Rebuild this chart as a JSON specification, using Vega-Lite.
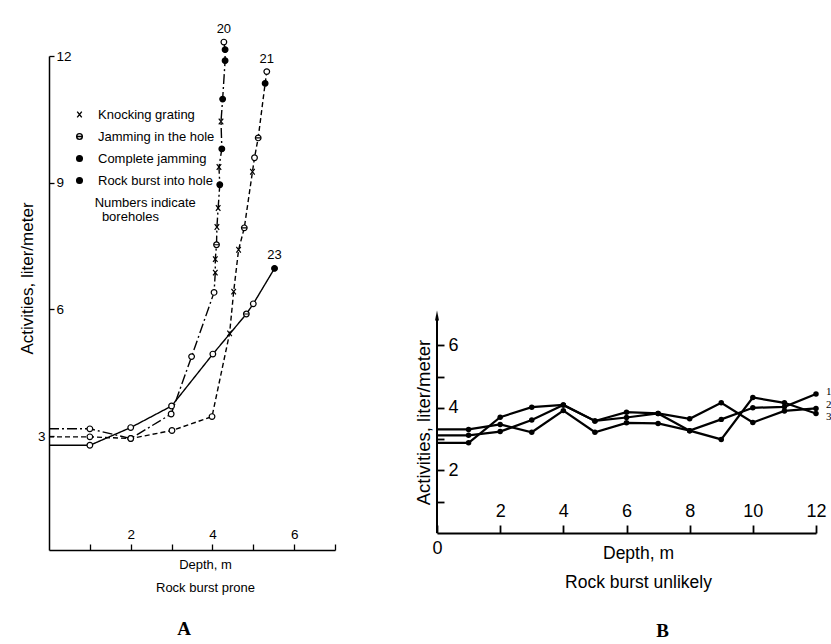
{
  "$schema": "https://vega.github.io/schema/vega-lite/v6.json",
  "autosize": "none",
  "padding": {"left": 49, "top": 56, "right": 782, "bottom": 588},
  "background": "white",
  "bounds": "flush",
  "spacing": 102,
  "config": {
    "view": {"stroke": null},
    "font": "Liberation Sans",
    "axis": {"grid": false, "domainColor": "black", "tickColor": "black", "labelColor": "black", "titleColor": "black", "titleFontWeight": "normal", "labelFont": "Liberation Sans", "titleFont": "Liberation Sans"},
    "legend": {"labelColor": "black", "titleColor": "black"}
  },
  "datasets": {
    "A": [
      {"b": "20", "depth": 0, "value": 3.17, "marker": "none"},
      {"b": "20", "depth": 1, "value": 3.17, "marker": "open"},
      {"b": "20", "depth": 2, "value": 2.94, "marker": "open"},
      {"b": "20", "depth": 2.99, "value": 3.52, "marker": "open"},
      {"b": "20", "depth": 3.49, "value": 4.88, "marker": "open"},
      {"b": "20", "depth": 4.04, "value": 6.4, "marker": "open"},
      {"b": "20", "depth": 4.07, "value": 6.87, "marker": "Knocking grating"},
      {"b": "20", "depth": 4.07, "value": 7.19, "marker": "Knocking grating"},
      {"b": "20", "depth": 4.1, "value": 7.53, "marker": "Jamming in the hole"},
      {"b": "20", "depth": 4.11, "value": 7.95, "marker": "Knocking grating"},
      {"b": "20", "depth": 4.14, "value": 8.4, "marker": "Knocking grating"},
      {"b": "20", "depth": 4.18, "value": 8.95, "marker": "Complete jamming"},
      {"b": "20", "depth": 4.16, "value": 9.37, "marker": "Knocking grating"},
      {"b": "20", "depth": 4.23, "value": 9.8, "marker": "Complete jamming"},
      {"b": "20", "depth": 4.21, "value": 10.45, "marker": "Knocking grating"},
      {"b": "20", "depth": 4.25, "value": 10.98, "marker": "Complete jamming"},
      {"b": "20", "depth": 4.31, "value": 11.89, "marker": "Rock burst into hole"},
      {"b": "20", "depth": 4.31, "value": 12.15, "marker": "Rock burst into hole"},
      {"b": "20", "depth": 4.28, "value": 12.33, "marker": "open"},
      {"b": "21", "depth": 0, "value": 2.98, "marker": "none"},
      {"b": "21", "depth": 1, "value": 2.98, "marker": "open"},
      {"b": "21", "depth": 2, "value": 2.94, "marker": "open"},
      {"b": "21", "depth": 3.01, "value": 3.13, "marker": "open"},
      {"b": "21", "depth": 3.99, "value": 3.46, "marker": "open"},
      {"b": "21", "depth": 4.42, "value": 5.43, "marker": "Knocking grating"},
      {"b": "21", "depth": 4.52, "value": 6.42, "marker": "Knocking grating"},
      {"b": "21", "depth": 4.64, "value": 7.41, "marker": "Knocking grating"},
      {"b": "21", "depth": 4.78, "value": 7.93, "marker": "Jamming in the hole"},
      {"b": "21", "depth": 4.98, "value": 9.26, "marker": "Knocking grating"},
      {"b": "21", "depth": 5.03, "value": 9.59, "marker": "open"},
      {"b": "21", "depth": 5.12, "value": 10.06, "marker": "Jamming in the hole"},
      {"b": "21", "depth": 5.29, "value": 11.35, "marker": "Rock burst into hole"},
      {"b": "21", "depth": 5.33, "value": 11.63, "marker": "open"},
      {"b": "23", "depth": 0, "value": 2.78, "marker": "none"},
      {"b": "23", "depth": 1, "value": 2.78, "marker": "open"},
      {"b": "23", "depth": 2, "value": 3.2, "marker": "open"},
      {"b": "23", "depth": 3, "value": 3.71, "marker": "open"},
      {"b": "23", "depth": 4.01, "value": 4.94, "marker": "open"},
      {"b": "23", "depth": 4.83, "value": 5.89, "marker": "Jamming in the hole"},
      {"b": "23", "depth": 5.0, "value": 6.13, "marker": "open"},
      {"b": "23", "depth": 5.52, "value": 6.97, "marker": "Rock burst into hole"}
    ],
    "Alabels": [
      {"b": "20", "depth": 4.28, "value": 12.33},
      {"b": "21", "depth": 5.33, "value": 11.63},
      {"b": "23", "depth": 5.52, "value": 6.97}
    ],
    "B": [
      {"line": "1", "depth": 0, "value": 3.31}, {"line": "1", "depth": 1, "value": 3.31}, {"line": "1", "depth": 2, "value": 3.47}, {"line": "1", "depth": 3, "value": 3.22}, {"line": "1", "depth": 4, "value": 3.91}, {"line": "1", "depth": 5, "value": 3.22}, {"line": "1", "depth": 6, "value": 3.52}, {"line": "1", "depth": 7, "value": 3.5}, {"line": "1", "depth": 8, "value": 3.27}, {"line": "1", "depth": 9, "value": 3.63}, {"line": "1", "depth": 10, "value": 4.0}, {"line": "1", "depth": 11, "value": 4.03}, {"line": "1", "depth": 12, "value": 4.44},
      {"line": "2", "depth": 0, "value": 3.12}, {"line": "2", "depth": 1, "value": 3.12}, {"line": "2", "depth": 2, "value": 3.24}, {"line": "2", "depth": 3, "value": 3.61}, {"line": "2", "depth": 4, "value": 4.09}, {"line": "2", "depth": 5, "value": 3.58}, {"line": "2", "depth": 6, "value": 3.86}, {"line": "2", "depth": 7, "value": 3.82}, {"line": "2", "depth": 8, "value": 3.65}, {"line": "2", "depth": 9, "value": 4.16}, {"line": "2", "depth": 10, "value": 3.53}, {"line": "2", "depth": 11, "value": 3.9}, {"line": "2", "depth": 12, "value": 3.98},
      {"line": "3", "depth": 0, "value": 2.88}, {"line": "3", "depth": 1, "value": 2.88}, {"line": "3", "depth": 2, "value": 3.7}, {"line": "3", "depth": 3, "value": 4.02}, {"line": "3", "depth": 4, "value": 4.09}, {"line": "3", "depth": 5, "value": 3.58}, {"line": "3", "depth": 6, "value": 3.69}, {"line": "3", "depth": 7, "value": 3.82}, {"line": "3", "depth": 8, "value": 3.27}, {"line": "3", "depth": 9, "value": 2.99}, {"line": "3", "depth": 10, "value": 4.33}, {"line": "3", "depth": 11, "value": 4.16}, {"line": "3", "depth": 12, "value": 3.82}
    ],
    "Blabels": [
      {"line": "1", "depth": 12, "value": 4.5},
      {"line": "2", "depth": 12, "value": 4.1},
      {"line": "3", "depth": 12, "value": 3.7}
    ],
    "axisB": [
      {"depth": 0, "bottom": 0, "top": 6.9, "arrow": 6.95}
    ]
  },
  "hconcat": [
    {
      "width": 286,
      "height": 494,
      "title": {"text": "A", "orient": "bottom", "frame": "group", "anchor": "middle", "dx": -8, "offset": 26, "font": "Liberation Serif", "fontSize": 19, "fontWeight": "bold", "color": "black"},
      "layer": [
        {
          "data": {"name": "A"},
          "mark": {"type": "line", "color": "black", "strokeWidth": 1.4},
          "encoding": {
            "x": {"field": "depth", "type": "quantitative", "scale": {"domain": [0, 7], "nice": false, "zero": false},
              "axis": {"values": [1, 2, 3, 4, 5, 6, 7], "labelExpr": "datum.value % 2 == 0 ? datum.label : ''", "tickSize": -6, "tickWidth": 1.3, "domainWidth": 1.5, "labelPadding": -3, "labelBaseline": "bottom", "labelFontSize": 13.5, "labelAngle": 0, "labelFlush": false,
                "title": ["Depth, m", "Rock burst prone"], "titleFontSize": 13, "titleLineHeight": 23, "titleX": 156, "titleY": 8, "titleBaseline": "top", "titleAlign": "center"}},
            "y": {"field": "value", "type": "quantitative", "scale": {"domain": [0.3, 12], "nice": false, "zero": false},
              "axis": {"values": [3, 6, 9, 12], "tickSize": -5, "tickWidth": 1.3, "domainWidth": 1.5, "labelFontSize": 13.5, "labelFlush": false,
                "labelAlign": {"condition": {"test": "datum.value == 3", "value": "right"}, "value": "left"},
                "labelPadding": {"condition": {"test": "datum.value == 3", "value": 9}, "value": -2},
                "title": "Activities, liter/meter", "titleFontSize": 17, "titleAngle": 270, "titleX": -22, "titleY": 222, "titleAlign": "center", "titleBaseline": "middle"}},
            "detail": {"field": "b", "type": "nominal"},
            "strokeDash": {"field": "b", "type": "nominal", "scale": {"domain": ["20", "21", "23"], "range": [[10, 3, 2, 3], [5, 3], [1, 0]]}, "legend": null},
            "order": {"value": null}
          }
        },
        {
          "data": {"name": "A"},
          "transform": [{"filter": "datum.marker != 'none'"}],
          "mark": {"type": "point", "filled": false, "strokeWidth": 1.2, "size": 32, "opacity": 1, "fillOpacity": 1, "strokeOpacity": 1},
          "encoding": {
            "x": {"field": "depth", "type": "quantitative"},
            "y": {"field": "value", "type": "quantitative"},
            "shape": {"field": "marker", "type": "nominal",
              "scale": {"domain": ["open", "Knocking grating", "Jamming in the hole", "Complete jamming", "Rock burst into hole"],
                "range": ["circle", "M-0.8,-1L0.8,1M-0.8,1L0.8,-1", "M-1,0A1,1,0,1,1,1,0A1,1,0,1,1,-1,0ZM-1,0L1,0", "circle", "circle"]},
              "legend": {"orient": "none", "legendX": 24, "legendY": 52, "values": ["Knocking grating", "Jamming in the hole", "Complete jamming", "Rock burst into hole"],
                "title": ["\u200b\u00a0\u00a0\u00a0\u00a0\u00a0\u00a0Numbers indicate", "\u200b\u00a0\u00a0\u00a0\u00a0\u00a0\u00a0\u00a0\u00a0boreholes"], "titleOrient": "bottom", "titleFontWeight": "normal", "titleFontSize": 13, "titleLineHeight": 14, "titlePadding": 9, "titleFont": "Liberation Sans",
                "labelFontSize": 13, "labelFont": "Liberation Sans", "rowPadding": 8, "labelOffset": 12, "symbolStrokeWidth": 1.4, "symbolSize": 32}},
            "fill": {"field": "marker", "type": "nominal",
              "scale": {"domain": ["open", "Knocking grating", "Jamming in the hole", "Complete jamming", "Rock burst into hole"], "range": ["white", "transparent", "white", "black", "black"]}},
            "stroke": {"field": "marker", "type": "nominal",
              "scale": {"domain": ["open", "Knocking grating", "Jamming in the hole", "Complete jamming", "Rock burst into hole"], "range": ["black", "black", "black", "black", "black"]}}
          }
        },
        {
          "data": {"name": "Alabels"},
          "mark": {"type": "text", "dy": -13, "fontSize": 13, "color": "black", "font": "Liberation Sans"},
          "encoding": {
            "x": {"field": "depth", "type": "quantitative"},
            "y": {"field": "value", "type": "quantitative"},
            "text": {"field": "b", "type": "nominal"}
          }
        }
      ]
    },
    {
      "width": 379,
      "height": 477,
      "title": {"text": "B", "orient": "bottom", "frame": "group", "anchor": "middle", "dx": 36, "offset": 31, "font": "Liberation Serif", "fontSize": 19, "fontWeight": "bold", "color": "black"},
      "layer": [
        {
          "data": {"name": "B"},
          "mark": {"type": "line", "color": "black", "strokeWidth": 2.2},
          "encoding": {
            "x": {"field": "depth", "type": "quantitative", "scale": {"domain": [0, 12], "nice": false, "zero": false},
              "axis": {"values": [0, 1, 2, 3, 4, 5, 6, 7, 8, 9, 10, 11, 12], "labelExpr": "datum.value % 2 == 0 ? datum.label : ''", "tickSize": -8, "tickWidth": 1.8, "domainWidth": 2, "labelFontSize": 18, "labelAngle": 0, "labelFlush": false,
                "labelBaseline": {"condition": {"test": "datum.value == 0", "value": "top"}, "value": "bottom"},
                "labelPadding": {"condition": {"test": "datum.value == 0", "value": 14}, "value": -5},
                "title": ["Depth, m", "Rock burst unlikely"], "titleFontSize": 17.5, "titleLineHeight": 29, "titleX": 201, "titleY": 11, "titleBaseline": "top", "titleAlign": "center"}},
            "y": {"field": "value", "type": "quantitative", "scale": {"domain": [0, 15.24], "nice": false, "zero": false},
              "axis": {"values": [1, 2, 3, 4, 5, 6], "labelExpr": "datum.value % 2 == 0 ? datum.label : ''", "domain": false, "tickSize": -7, "tickWidth": 1.8, "labelPadding": -4, "labelAlign": "left", "labelFontSize": 18, "labelFlush": false,
                "title": "Activities, liter/meter", "titleFontSize": 18.5, "titleAngle": 270, "titleX": -14, "titleY": 366, "titleAlign": "center", "titleBaseline": "middle"}},
            "detail": {"field": "line", "type": "nominal"}
          }
        },
        {
          "data": {"name": "axisB"},
          "mark": {"type": "rule", "color": "black", "strokeWidth": 2},
          "encoding": {
            "x": {"field": "depth", "type": "quantitative"},
            "y": {"field": "bottom", "type": "quantitative"},
            "y2": {"field": "top"}
          }
        },
        {
          "data": {"name": "axisB"},
          "mark": {"type": "point", "shape": "M0,-1L-0.4,1L0.4,1Z", "filled": true, "color": "black", "size": 100, "opacity": 1},
          "encoding": {
            "x": {"field": "depth", "type": "quantitative"},
            "y": {"field": "arrow", "type": "quantitative"}
          }
        },
        {
          "data": {"name": "B"},
          "transform": [{"filter": "datum.depth > 0"}],
          "mark": {"type": "point", "shape": "circle", "filled": true, "color": "black", "size": 30, "opacity": 1},
          "encoding": {
            "x": {"field": "depth", "type": "quantitative"},
            "y": {"field": "value", "type": "quantitative"}
          }
        },
        {
          "data": {"name": "Blabels"},
          "mark": {"type": "text", "dx": 10, "align": "left", "fontSize": 11, "font": "Liberation Serif", "color": "black"},
          "encoding": {
            "x": {"field": "depth", "type": "quantitative"},
            "y": {"field": "value", "type": "quantitative"},
            "text": {"field": "line", "type": "nominal"}
          }
        }
      ]
    }
  ]
}
